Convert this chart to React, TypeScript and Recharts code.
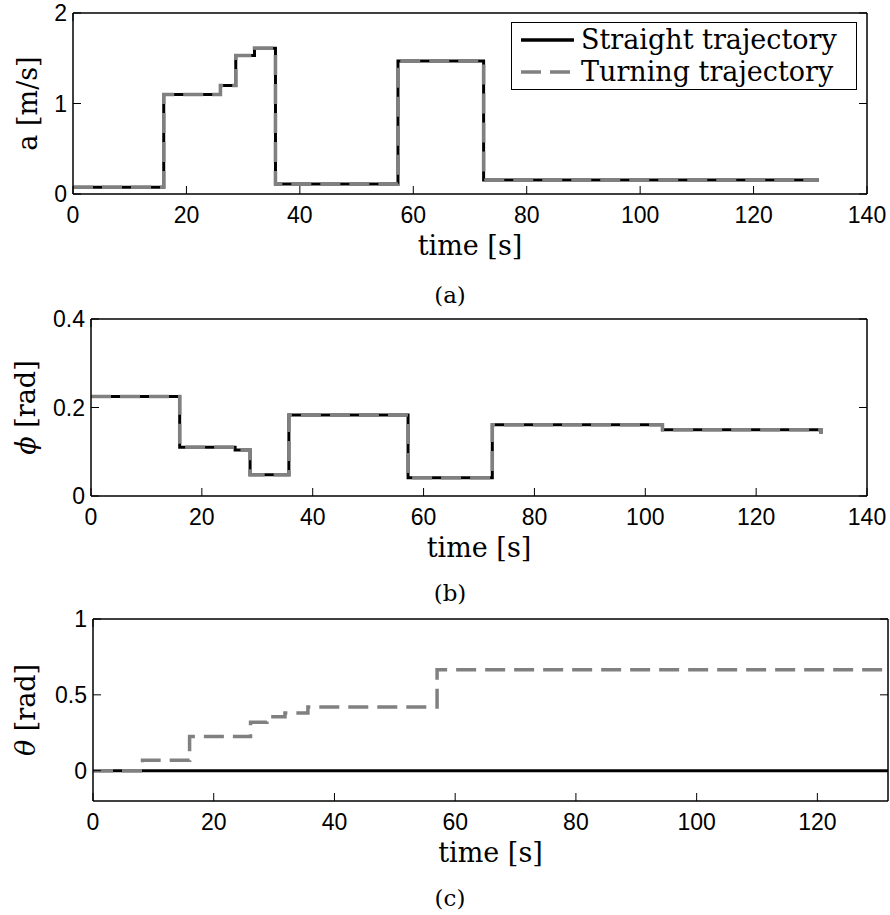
import React from "react";
import { LineChart, Line, XAxis, YAxis, Legend, Label } from "recharts";

// (a) acceleration
const aTime = [0, 16, 26, 28.7, 32, 35.7, 57.3, 72.4, 131.5];
const aStraight = [0.075, 1.1, 1.2, 1.53, 1.61, 0.11, 1.47, 0.155, 0.155];
const aTurning = [0.075, 1.1, 1.2, 1.53, 1.61, 0.11, 1.47, 0.155, 0.155];

// (b) phi
const phiTime = [0, 16, 26, 28.7, 35.7, 57.2, 72.4, 103.1, 131.5, 131.7];
const phiStraight = [0.225, 0.11, 0.104, 0.048, 0.183, 0.041, 0.161, 0.15, 0.15, 0.14];
const phiTurning = [0.225, 0.11, 0.104, 0.048, 0.183, 0.041, 0.161, 0.15, 0.15, 0.14];

// (c) theta
const thetaTime = [0, 8.2, 16, 26.1, 28.8, 31.8, 35.6, 57, 131.7];
const thetaStraight = [0, 0, 0, 0, 0, 0, 0, 0, 0];
const thetaTurning = [0, 0.068, 0.225, 0.32, 0.355, 0.38, 0.42, 0.665, 0.665];

const xTicks140 = [0, 20, 40, 60, 80, 100, 120, 140];
const xTicks120 = [0, 20, 40, 60, 80, 100, 120];
const aTicks = [0, 1, 2];
const phiTicks = [0, 0.2, 0.4];
const thetaTicks = [0, 0.5, 1];

const SANS = "'Liberation Sans', Arial, Helvetica, sans-serif";
const SERIF = "'DejaVu Serif', serif";
const GRAY = "#808080";
const DASH = "20 9";

const toRows = (t: number[], s: number[], tr: number[]) =>
  t.map((x, i) => ({ t: x, straight: s[i], turning: tr[i] }));

const tickFont = { fontFamily: SANS, fontSize: 23, fill: "#000" };
const axisLine = { stroke: "#000", strokeWidth: 1.5 };
const tickLine = { stroke: "#000", strokeWidth: 1 };

const yTitle = (sym: string, unit: string, italic: boolean, x: number) => (props: any) => {
  const vb = props.viewBox || { y: 0, height: 0 };
  const cy = vb.y + vb.height / 2;
  return (
    <text
      x={x}
      y={cy}
      transform={`rotate(-90 ${x} ${cy})`}
      textAnchor="middle"
      dominantBaseline="central"
      fontFamily={SERIF}
      fontSize={27}
      fill="#000"
    >
      <tspan fontStyle={italic ? "italic" : "normal"}>{sym}</tspan>
      <tspan>{unit}</tspan>
    </text>
  );
};

const LegendBox = (props: any) => {
  const items = props.payload || [];
  return (
    <div
      style={{
        width: 346,
        height: 68,
        boxSizing: "border-box",
        border: "1.5px solid #000",
        background: "#fff",
        fontFamily: SERIF,
        fontSize: 27,
        padding: "1px 0 0 9px",
        whiteSpace: "nowrap",
        color: "#000",
      }}
    >
      {items.map((e: any) => (
        <div key={e.value} style={{ display: "flex", alignItems: "center", height: 32 }}>
          <svg width={60} height={10} style={{ flex: "none" }}>
            <line
              x1={0}
              y1={5}
              x2={53}
              y2={5}
              stroke={e.color}
              strokeWidth={3.5}
              strokeDasharray={e.value.startsWith("Turning") ? DASH : undefined}
            />
          </svg>
          <span style={{ lineHeight: "32px" }}>{e.value}</span>
        </div>
      ))}
    </div>
  );
};

type PanelProps = {
  rows: { t: number; straight: number; turning: number }[];
  width: number;
  height: number;
  margin: { top: number; right: number; bottom: number; left: number };
  yWidth: number;
  xDomain: [number, number];
  xTicks: number[];
  yDomain: [number, number];
  yTicks: number[];
  ySym: string;
  yUnit: string;
  yItalic: boolean;
  yTitleX: number;
  legend?: boolean;
};

function Panel(p: PanelProps) {
  return (
    <LineChart width={p.width} height={p.height} data={p.rows} margin={p.margin}>
      <XAxis
        dataKey="t"
        type="number"
        domain={p.xDomain}
        ticks={p.xTicks}
        interval={0}
        allowDataOverflow
        height={70}
        tickSize={-8}
        tickMargin={21}
        tick={tickFont}
        axisLine={axisLine}
        tickLine={tickLine}
      >
        <Label
          value="time [s]"
          position="insideBottom"
          offset={9}
          style={{ fontFamily: SERIF, fontSize: 27, fill: "#000" }}
        />
      </XAxis>
      <XAxis
        xAxisId="top"
        orientation="top"
        type="number"
        domain={p.xDomain}
        ticks={p.xTicks}
        interval={0}
        allowDataOverflow
        height={1}
        tickSize={-8}
        tickFormatter={() => ""}
        axisLine={axisLine}
        tickLine={tickLine}
      />
      <YAxis
        type="number"
        domain={p.yDomain}
        ticks={p.yTicks}
        interval={0}
        allowDataOverflow
        width={p.yWidth}
        tickSize={-8}
        tickMargin={14}
        tick={tickFont}
        axisLine={axisLine}
        tickLine={tickLine}
        label={{ content: yTitle(p.ySym, p.yUnit, p.yItalic, p.yTitleX) }}
      />
      <YAxis
        yAxisId="right"
        orientation="right"
        type="number"
        domain={p.yDomain}
        ticks={p.yTicks}
        interval={0}
        allowDataOverflow
        width={1}
        tickSize={-8}
        tickFormatter={() => ""}
        axisLine={axisLine}
        tickLine={tickLine}
      />
      {p.legend && (
        <Legend
          layout="horizontal"
          verticalAlign="middle"
          align="center"
          content={<LegendBox />}
          wrapperStyle={{ left: 511, top: 22, width: 346, height: 68 }}
        />
      )}
      <Line
        type="stepAfter"
        dataKey="straight"
        name="Straight trajectory"
        stroke="#000"
        strokeWidth={3}
        dot={false}
        activeDot={false}
        isAnimationActive={false}
      />
      <Line
        type="stepAfter"
        dataKey="turning"
        name="Turning trajectory"
        stroke={GRAY}
        strokeWidth={3.5}
        strokeDasharray={DASH}
        dot={false}
        activeDot={false}
        isAnimationActive={false}
      />
    </LineChart>
  );
}

const caption: React.CSSProperties = {
  position: "absolute",
  left: 350,
  width: 200,
  textAlign: "center",
  fontFamily: SERIF,
  fontSize: 23,
  lineHeight: "24px",
};

export default function App() {
  return (
    <div style={{ position: "absolute", left: 0, top: 0, width: 890, height: 915, background: "#fff" }}>
      <div style={{ position: "absolute", left: 0, top: 0 }}>
        <Panel
          rows={toRows(aTime, aStraight, aTurning)}
          width={890}
          height={300}
          margin={{ top: 12, right: 22, bottom: 36, left: 1 }}
          yWidth={72}
          xDomain={[0, 140]}
          xTicks={xTicks140}
          yDomain={[0, 2]}
          yTicks={aTicks}
          ySym="a"
          yUnit=" [m/s]"
          yItalic={false}
          yTitleX={27}
          legend
        />
      </div>
      <div style={{ ...caption, top: 283 }}>(a)</div>
      <div style={{ position: "absolute", left: 0, top: 300 }}>
        <Panel
          rows={toRows(phiTime, phiStraight, phiTurning)}
          width={890}
          height={300}
          margin={{ top: 18, right: 22, bottom: 34, left: 1 }}
          yWidth={90}
          xDomain={[0, 140]}
          xTicks={xTicks140}
          yDomain={[0, 0.4]}
          yTicks={phiTicks}
          ySym="ϕ"
          yUnit=" [rad]"
          yItalic
          yTitleX={25}
        />
      </div>
      <div style={{ ...caption, top: 581 }}>(b)</div>
      <div style={{ position: "absolute", left: 0, top: 600 }}>
        <Panel
          rows={toRows(thetaTime, thetaStraight, thetaTurning)}
          width={890}
          height={315}
          margin={{ top: 18, right: 1, bottom: 44, left: 1 }}
          yWidth={92}
          xDomain={[0, 131.7]}
          xTicks={xTicks120}
          yDomain={[-0.2, 1]}
          yTicks={thetaTicks}
          ySym="θ"
          yUnit=" [rad]"
          yItalic
          yTitleX={25}
        />
      </div>
      <div style={{ ...caption, top: 886 }}>(c)</div>
    </div>
  );
}
